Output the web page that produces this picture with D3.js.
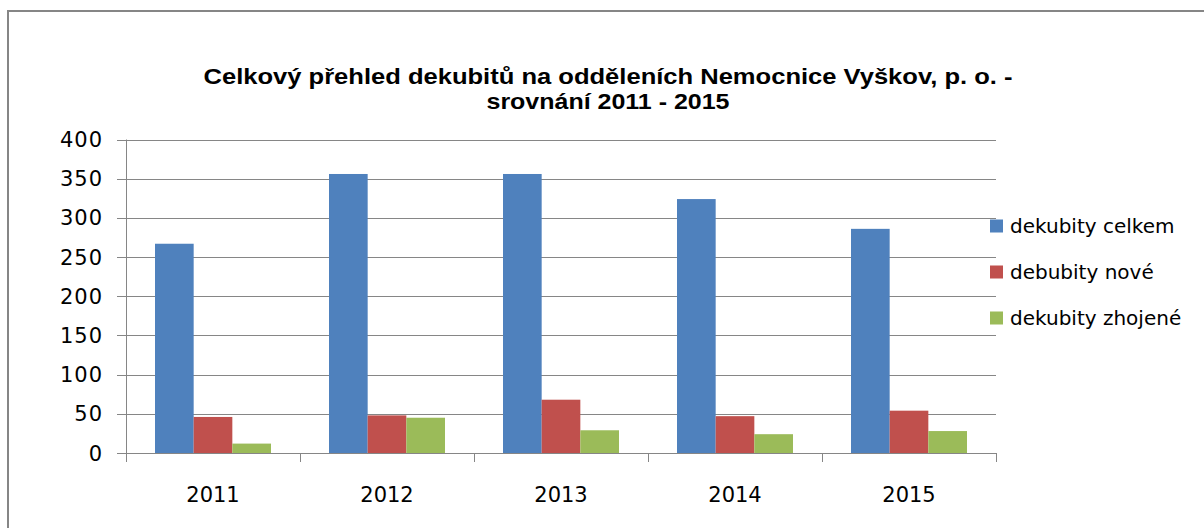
<!DOCTYPE html>
<html>
<head>
<meta charset="utf-8">
<script src="https://cdn.jsdelivr.net/npm/d3@7"></script>
<style>
  body { margin: 0; background: #fff; }
  svg { display: block; }
  text { font-family: "DejaVu Sans", sans-serif; fill: #000; }
</style>
</head>
<body>
<svg id="chart" width="1204" height="528"></svg>
<script>
// Chart data
const years = ["2011", "2012", "2013", "2014", "2015"];
const seriesNames = ["dekubity celkem", "debubity nové", "dekubity zhojené"];
const celkem = [267, 356, 356, 324, 286];
const nove = [46, 48, 68, 47, 54];
const zhojene = [12, 45, 29, 24, 28];
const yTicks = [0, 50, 100, 150, 200, 250, 300, 350, 400];
const titleLines = ["Celkový přehled dekubitů na odděleních Nemocnice Vyškov, p. o. -", "srovnání 2011 - 2015"];

const colors = ["#4F81BD", "#C0504D", "#9BBB59"];
const values = [celkem, nove, zhojene];

const svg = d3.select("#chart");

// outer frame (clipped on the right / bottom like the original)
svg.append("rect")
  .attr("x", 8).attr("y", 11)
  .attr("width", 1400).attr("height", 800)
  .attr("fill", "none")
  .attr("stroke", "#868686")
  .attr("stroke-width", 2);

// Title - the original is rendered wide, so stretch it to the same width
const titleWidths = [809, 243];
svg.append("g").selectAll("text")
  .data(titleLines)
  .join("text")
  .attr("x", 608)
  .attr("y", (d, i) => 84 + i * 25)
  .attr("text-anchor", "middle")
  .attr("textLength", (d, i) => titleWidths[i])
  .attr("lengthAdjust", "spacingAndGlyphs")
  .style("font-family", "'Liberation Sans', Arial, sans-serif")
  .style("font-weight", "bold")
  .style("font-size", "22px")
  .text(d => d);

const plot = { left: 126, right: 996, top: 139.5, bottom: 453 };

const x0 = d3.scaleBand().domain(years).range([plot.left, plot.right]);
const x1 = d3.scaleBand().domain(d3.range(3)).range([0, x0.bandwidth()]).paddingOuter(0.75);
const y = d3.scaleLinear().domain([0, 400]).range([plot.bottom, plot.top]);

// Gridlines with left tick stubs
svg.append("g").selectAll("line")
  .data(yTicks)
  .join("line")
  .attr("x1", plot.left - 9).attr("x2", plot.right)
  .attr("y1", d => Math.round(y(d)) + 0.5).attr("y2", d => Math.round(y(d)) + 0.5)
  .attr("stroke", "#868686").attr("stroke-width", 1);

// Y labels
svg.append("g").selectAll("text")
  .data(yTicks)
  .join("text")
  .attr("x", 103)
  .attr("y", d => y(d))
  .attr("dy", "0.36em")
  .attr("text-anchor", "end")
  .style("font-size", "21px")
  .style("letter-spacing", "1px")
  .text(d => d);

// Bars
const groups = svg.append("g").selectAll("g")
  .data(years)
  .join("g")
  .attr("transform", d => `translate(${x0(d)},0)`);

groups.selectAll("rect")
  .data((yr, i) => values.map((v, s) => ({ s, v: v[i] })))
  .join("rect")
  .attr("x", d => x1(d.s))
  .attr("width", x1.bandwidth())
  .attr("y", d => y(d.v))
  .attr("height", d => y(0) - y(d.v))
  .attr("fill", d => colors[d.s]);

// Axes lines: vertical axis and category ticks
svg.append("line")
  .attr("x1", plot.left + 0.5).attr("x2", plot.left + 0.5)
  .attr("y1", plot.top).attr("y2", plot.bottom + 9)
  .attr("stroke", "#868686");
svg.append("line")
  .attr("x1", plot.left - 9).attr("x2", plot.right)
  .attr("y1", plot.bottom + 0.5).attr("y2", plot.bottom + 0.5)
  .attr("stroke", "#868686");
const tickXs = years.map(d => x0(d)).concat([plot.right]);
svg.append("g").selectAll("line")
  .data(tickXs)
  .join("line")
  .attr("x1", d => Math.round(d) + 0.5).attr("x2", d => Math.round(d) + 0.5)
  .attr("y1", plot.bottom).attr("y2", plot.bottom + 9)
  .attr("stroke", "#868686");

// X labels
svg.append("g").selectAll("text")
  .data(years)
  .join("text")
  .attr("x", d => x0(d) + x0.bandwidth() / 2)
  .attr("y", 502)
  .attr("text-anchor", "middle")
  .style("font-size", "21px")
  .text(d => d);

// Legend
const legend = svg.append("g").selectAll("g")
  .data(seriesNames)
  .join("g")
  .attr("transform", (d, i) => `translate(990,${226 + i * 46})`);
legend.append("rect")
  .attr("x", 0).attr("y", -6.5)
  .attr("width", 13).attr("height", 13)
  .attr("fill", (d, i) => colors[i]);
legend.append("text")
  .attr("x", 20)
  .attr("y", 0)
  .attr("dy", "0.36em")
  .style("font-size", "20px")
  .text(d => d);
</script>
</body>
</html>
